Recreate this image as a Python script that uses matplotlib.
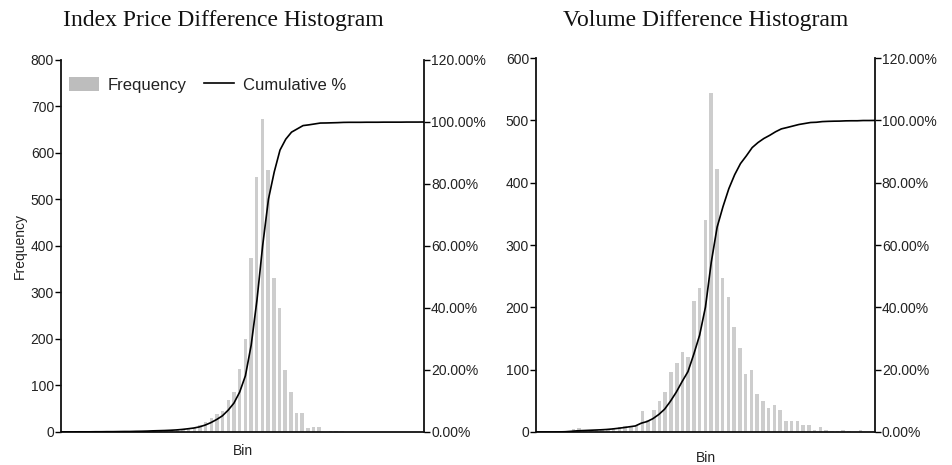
import numpy as np
import matplotlib
matplotlib.use("Agg")
import matplotlib.pyplot as plt
from matplotlib.patches import Patch
from matplotlib.lines import Line2D

# frequency counts per bin
price_freq = [1, 0, 0, 1, 0, 0, 1, 0, 1, 0, 1, 1, 0, 2, 1, 2, 3, 2, 2, 3,
              4, 6, 8, 9, 14, 22, 30, 38, 45, 69, 86, 135, 200, 374, 548, 673,
              563, 331, 267, 133, 86, 40, 40, 9, 11, 11, 1, 2, 2, 3, 1, 0,
              0, 1, 0, 0, 1, 0, 0, 0, 1, 0, 0, 1]
volume_freq = [0, 0, 0, 0, 1, 2, 5, 6, 3, 3, 3, 3, 4, 6, 8, 9, 10, 10, 33,
               20, 35, 50, 64, 96, 110, 128, 120, 210, 231, 340, 544, 422,
               247, 217, 169, 135, 93, 100, 61, 49, 38, 43, 35, 17, 18, 18,
               12, 12, 3, 8, 3, 2, 1, 3, 1, 0, 3, 0, 1]

titles = ["Index Price Difference Histogram", "Volume Difference Histogram"]
left_max = [800, 600]
pct_ticks = [0, 20, 40, 60, 80, 100, 120]

plt.rcParams["font.family"] = ["Liberation Sans", "DejaVu Sans"]
txt_col = "#222222"
bar_col = "#cdcdcd"

fig = plt.figure(figsize=(9.53, 4.65), dpi=100)
boxes = [[0.064, 0.071, 0.381, 0.800], [0.5625, 0.071, 0.3555, 0.804]]
title_x = [0.234, 0.740]
xlabel_pad = [9, 13.5]


def draw_panel(box, freq, ymax, title, tx, pad, show_legend):
    n = len(freq)
    ax = fig.add_axes(box)
    ax.bar(np.arange(n), freq, width=0.62, color=bar_col, zorder=2)
    ax.set_xlim(-0.5, n - 0.5)
    ax.set_ylim(0, ymax)
    ax.set_yticks(np.arange(0, ymax + 1, 100))
    ax.set_xticks([])
    ax.spines["top"].set_visible(False)
    ax.spines["right"].set_visible(False)
    for s in ["left", "bottom"]:
        ax.spines[s].set_linewidth(1.3)
        ax.spines[s].set_color("#111111")
    ax.tick_params(axis="y", direction="out", length=4, width=1,
                   labelsize=10, labelcolor=txt_col, pad=1)
    ax.set_xlabel("Bin", fontsize=10, color=txt_col, labelpad=pad)

    cum = np.cumsum(freq) / np.sum(freq) * 100
    ax2 = ax.twinx()
    # line runs from the left axis to the right axis
    line_x = np.linspace(-0.5, n - 0.5, n)
    ax2.plot(line_x, cum, color="black", lw=1.2, zorder=3)
    ax2.set_ylim(0, 120)
    ax2.set_yticks(pct_ticks)
    ax2.set_yticklabels(["%.2f%%" % p for p in pct_ticks])
    ax2.spines["top"].set_visible(False)
    ax2.spines["left"].set_visible(False)
    ax2.spines["bottom"].set_visible(False)
    ax2.spines["right"].set_linewidth(1.3)
    ax2.spines["right"].set_color("#111111")
    ax2.tick_params(axis="y", direction="out", length=4, width=1,
                    labelsize=10, labelcolor=txt_col, pad=1)

    fig.text(tx, 0.955, title, ha="center", va="center", fontsize=17,
             family="Liberation Serif", color="#111111")

    if show_legend:
        ax.set_ylabel("Frequency", fontsize=10, color=txt_col, labelpad=3)
        handles = [Patch(facecolor="#bdbdbd", edgecolor="none"),
                   Line2D([0], [0], color="black", lw=1.2)]
        ax.legend(handles, ["Frequency", "Cumulative %"], loc="upper left",
                  bbox_to_anchor=(-0.02, 0.995), ncol=2, frameon=False,
                  fontsize=12, handlelength=1.8, handleheight=0.9,
                  columnspacing=1.0, handletextpad=0.55, labelcolor=txt_col)


for k in range(2):
    freq = price_freq if k == 0 else volume_freq
    draw_panel(boxes[k], freq, left_max[k], titles[k], title_x[k],
               xlabel_pad[k], k == 0)

fig.savefig("out.png", dpi=100)
